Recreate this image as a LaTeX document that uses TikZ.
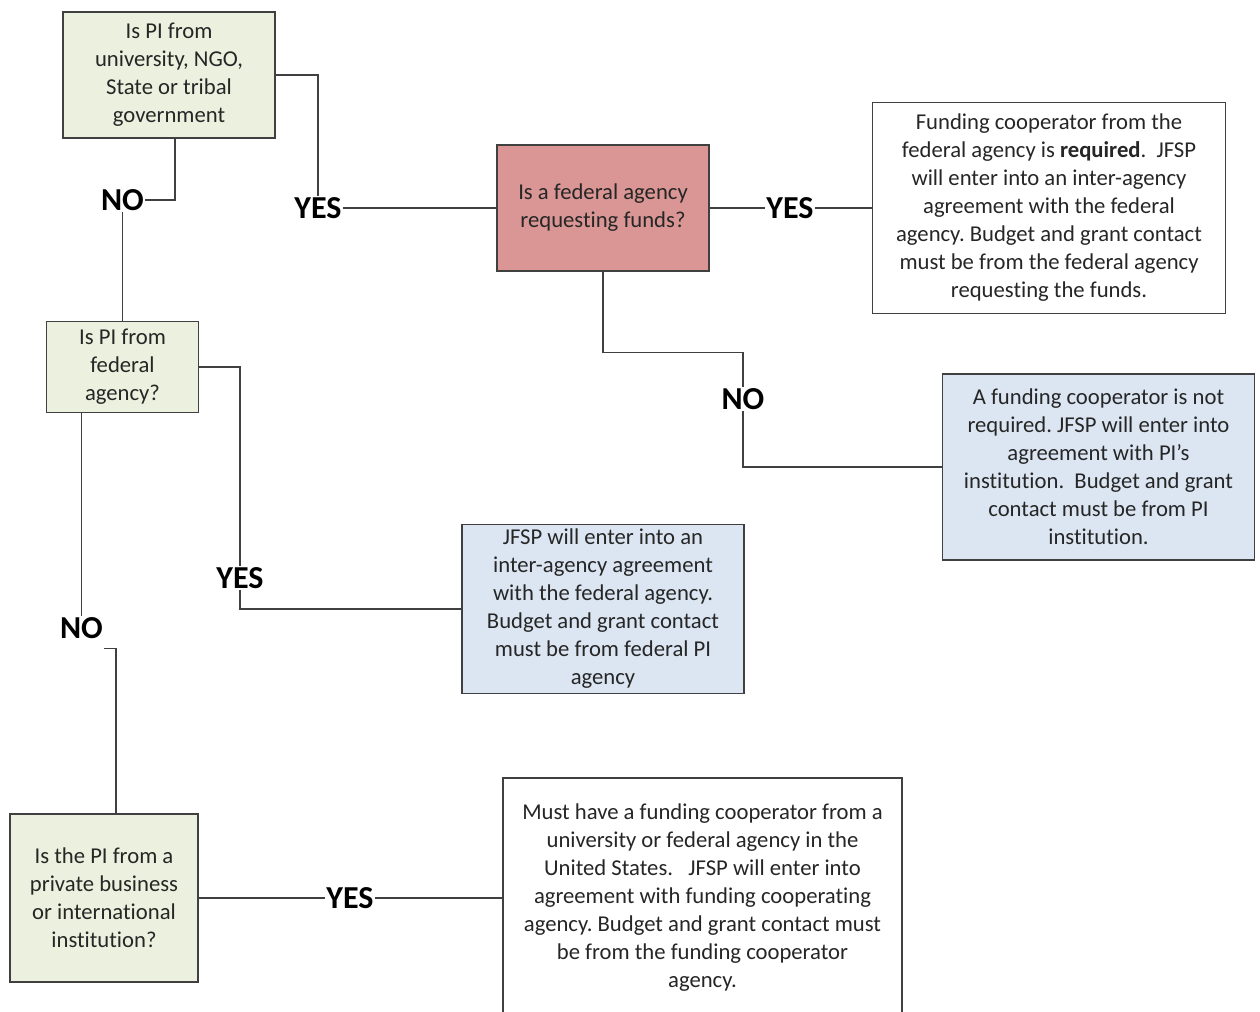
\documentclass[tikz,border=0pt]{standalone}
\usepackage{fontspec}
\setmainfont[Ligatures=NoCommon]{Carlito}
\frenchspacing
\usepackage{tikz}
\usetikzlibrary{calc}
\usepackage{xcolor}
\definecolor{ColGreen}{RGB}{235,241,222}
\definecolor{ColRed}{RGB}{217,150,148}
\definecolor{ColBlue}{RGB}{220,230,242}
\definecolor{ColLine}{RGB}{64,64,64}
\tikzstyle{BoxGraph}=[rectangle,draw=ColLine,line width=1pt,inner sep=0pt,align=center,
text=black!85,font=\fontsize{17}{21}\selectfont]
\tikzstyle{LabelGraph}=[fill=white,inner sep=1pt,font=\fontsize{24}{24}\selectfont\bfseries]
\tikzstyle{EdgeGraph}=[ColLine,line width=1pt]
\begin{document}
\begin{tikzpicture}[x=0.75pt,y=-0.75pt]
        \useasboundingbox (0,0) rectangle (1260,1011);
        \node[BoxGraph,fill=ColGreen,minimum width=159pt,minimum height=94.5pt](a)at(169,75)
            {Is PI from\\university, NGO,\\State or tribal\\government};
        \node[BoxGraph,fill=ColRed,minimum width=159pt,minimum height=94.5pt](b)at(603,208)
            {Is a federal agency\\requesting funds?};
        \node[BoxGraph,fill=white,minimum width=264.75pt,minimum height=158.25pt](c)at(1049,208)
            {Funding cooperator from the\\federal agency is \textbf{required}.\ \ JFSP\\will enter into an inter-agency\\agreement with the federal\\agency. Budget and grant contact\\must be from the federal agency\\requesting the funds.};
        \node[BoxGraph,fill=ColBlue,minimum width=234pt,minimum height=139.5pt](d)at(1098.5,467)
            {A funding cooperator is not\\required. JFSP will enter into\\agreement with PI’s\\institution.\ \ Budget and grant\\contact must be from PI\\institution.};
        \node[BoxGraph,fill=ColGreen,minimum width=114pt,minimum height=68.25pt](e)at(122.5,367)
            {Is PI from\\federal\\agency?};
        \node[BoxGraph,fill=ColBlue,minimum width=211.5pt,minimum height=126.75pt](f)at(603,609)
            {JFSP will enter into an\\inter-agency agreement\\with the federal agency.\\Budget and grant contact\\must be from federal PI\\agency};
        \node[BoxGraph,fill=ColGreen,minimum width=141pt,minimum height=126pt](g)at(104,898)
            {Is the PI from a\\private business\\or international\\institution?};
        \node[BoxGraph,fill=white,minimum width=299.25pt,minimum height=180pt](h)at(702.5,898)
            {Must have a funding cooperator from a\\university or federal agency in the\\United States.\ \ \ JFSP will enter into\\agreement with funding cooperating\\agency. Budget and grant contact must\\be from the funding cooperator\\agency.};
        \node[LabelGraph](ya)at(318,208){YES};
        \node[LabelGraph](na)at(122.5,200){NO};
        \node[LabelGraph](yb)at(790,208){YES};
        \node[LabelGraph](nb)at(743,399){NO};
        \node[LabelGraph](yc)at(240,578){YES};
        \node[LabelGraph](nc)at(81.5,628){NO};
        \node[LabelGraph](yd)at(350,898){YES};
        \draw[EdgeGraph](a.east)-|(ya.north);
        \draw[EdgeGraph](ya)--(b);
        \draw[EdgeGraph]([xshift=4.5pt]a.south)|-(na);
        \draw[EdgeGraph](na)--(e);
        \draw[EdgeGraph](b)--(yb);
        \draw[EdgeGraph](yb)--(c);
        \draw[EdgeGraph](b.south)--++(0,81)-|(nb.north);
        \draw[EdgeGraph](nb.south)|-(d.west);
        \draw[EdgeGraph](e.east)-|(yc.north);
        \draw[EdgeGraph](yc.south)|-(f.west);
        \draw[EdgeGraph](e.south-|nc.north)--(nc.north);
        \draw[EdgeGraph]([yshift=-6pt]nc.south east)-|($(g.north)+(12,0)$);
        \draw[EdgeGraph](g)--(yd);
        \draw[EdgeGraph](yd)--(h);
    \end{tikzpicture}
\end{document}
